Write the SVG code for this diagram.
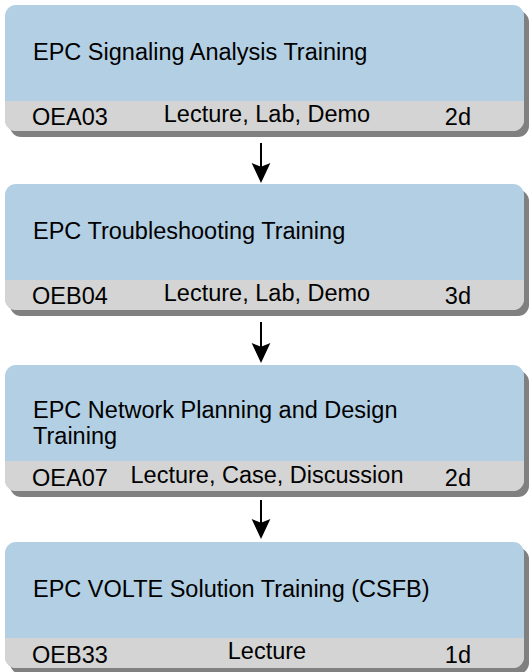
<svg xmlns="http://www.w3.org/2000/svg" width="530" height="672" viewBox="0 0 530 672">
<style>
.shadow{fill:#808080}
.blue{fill:#B3CFE3}
.gray{fill:#D4D4D4}
text{font-family:"Liberation Sans",Arial,sans-serif;font-size:23.5px;fill:#000}
.mid{text-anchor:middle}
.end{text-anchor:end}
.conn{stroke:#000;stroke-width:2;fill:none;marker-end:url(#ah)}
</style>
<defs>
<marker id="ah" markerUnits="userSpaceOnUse" markerWidth="20" markerHeight="20" viewBox="0 -8 16 16" refX="4" refY="0" orient="auto">
<path d="M0,-7.5 L16,0 L0,7.5 L3,0 Z" fill="#000"/>
</marker>
<path id="bar" d="M0,96 H519 V115 A11,11 0 0 1 508,126 H11 A11,11 0 0 1 0,115 Z"/>
</defs>
<g id="n1" transform="translate(5,5)">
<rect class="shadow" x="5" y="6" width="519" height="126" rx="11"/>
<rect class="blue" width="519" height="126" rx="11"/>
<use href="#bar" class="gray"/>
<text x="28" y="55">EPC Signaling Analysis Training</text>
<text x="27" y="120">OEA03</text>
<text class="mid" x="262" y="117">Lecture, Lab, Demo</text>
<text class="end" x="466" y="120">2d</text>
</g>
<g id="n2" transform="translate(5,184)">
<rect class="shadow" x="5" y="6" width="519" height="126" rx="11"/>
<rect class="blue" width="519" height="126" rx="11"/>
<use href="#bar" class="gray"/>
<text x="28" y="55">EPC Troubleshooting Training</text>
<text x="27" y="120">OEB04</text>
<text class="mid" x="262" y="117">Lecture, Lab, Demo</text>
<text class="end" x="466" y="120">3d</text>
</g>
<g id="n3" transform="translate(5,365)">
<rect class="shadow" x="5" y="6" width="519" height="126" rx="11"/>
<rect class="blue" width="519" height="126" rx="11"/>
<use href="#bar" class="gray"/>
<text x="28" y="53">EPC Network Planning and Design</text>
<text x="28" y="79">Training</text>
<text x="27" y="121">OEA07</text>
<text class="mid" x="262" y="118">Lecture, Case, Discussion</text>
<text class="end" x="466" y="121">2d</text>
</g>
<g id="n4" transform="translate(5,542)">
<rect class="shadow" x="5" y="6" width="519" height="126" rx="11"/>
<rect class="blue" width="519" height="126" rx="11"/>
<use href="#bar" class="gray"/>
<text x="28" y="55">EPC VOLTE Solution Training (CSFB)</text>
<text x="27" y="121">OEB33</text>
<text class="mid" x="262" y="117">Lecture</text>
<text class="end" x="466" y="121">1d</text>
</g>
<g id="connectors">
<line class="conn" x1="261" y1="143" x2="261" y2="168"/>
<line class="conn" x1="261" y1="322" x2="261" y2="348"/>
<line class="conn" x1="261" y1="500" x2="261" y2="524"/>
</g>
</svg>
